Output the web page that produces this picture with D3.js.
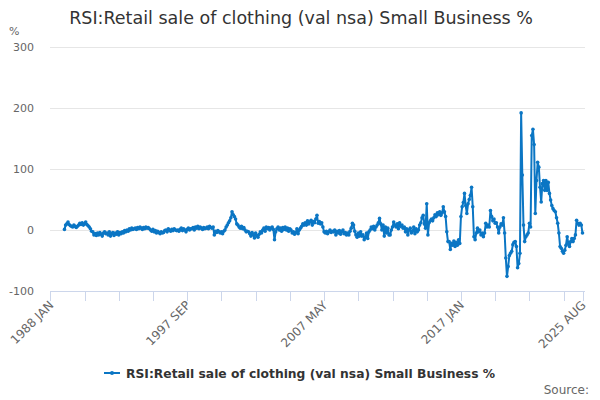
<!DOCTYPE html>
<html>
<head>
<meta charset="utf-8">
<script src="https://cdn.jsdelivr.net/npm/d3@7"></script>
<style>
  body { margin: 0; background: #fff; }
  svg { font-family: "DejaVu Sans", sans-serif; }
</style>
</head>
<body>
<div id="chart"></div>
<script>
const width = 600, height = 400;

const title = "RSI:Retail sale of clothing (val nsa) Small Business %";
const startYear = 1988;
const monthNames = ["JAN", "FEB", "MAR", "APR", "MAY", "JUN", "JUL", "AUG", "SEP", "OCT", "NOV", "DEC"];
const yTicks = [-100, 0, 100, 200, 300];

// monthly values, one row per year, 1988 has no data
const values = [
  null, null, null, null, null, null, null, null, null, null, null, null,
  1, 8, 10, 13, 9, 7, 6, 5, 8, 6, 4, 6,
  8, 11, 9, 12, 8, 10, 13, 9, 7, 5, 2, -2,
  -3, -8, -6, -9, -5, -8, -4, -7, -10, -5, -3, -6,
  -5, -8, -3, -10, -6, -4, -9, -5, -7, -3, -8, -4,
  -6, -3, -5, -1, -3, 0, -2, 2, 0, 3, 1, 2,
  3, 1, 4, 2, 5, 3, 1, 4, 2, 5, 3, 4,
  2, 0, -2, 1, -3, -1, -5, -2, -4, -6, -3, -5,
  -4, -1, 0, -3, 2, 0, -2, 1, -1, 2, 0, -1,
  0, -2, 1, 3, -1, 2, 0, -3, 1, 3, 0, 2,
  2, 4, 0, 5, 3, 6, 2, 5, 3, 1, 4, 2,
  3, 5, 2, 6, 4, 3, 5, -8, -2, -4, -1, -3,
  -5, -3, -6, -2, 0, 5, 8, 12, 15, 20, 30, 25,
  22, 18, 10, 8, 5, 3, 6, 2, 4, 0, -3, -2,
  -3, -6, -10, -4, -8, -13, -5, -9, -12, -7, -3, -5,
  0, 3, -2, 5, 2, 4, 0, 3, 5, 1, -16, -3,
  2, 5, 0, 3, -2, 4, 1, 5, 0, 3, -2, 2,
  0, -5, -3, -7, -4, 2, -6, 0, 3, 6, 10, 8,
  12, 8, 15, 10, 13, 16, 8, 14, 12, 18, 24, 11,
  14, 10, 12, 5, -3, -5, -2, -6, -3, 0, -4, -2,
  -3, 0, -8, -2, -5, -1, -7, -3, 0, -6, -4, -8,
  -5, -8, -2, 3, 11, 8, -2, -8, -12, -5, -10, -3,
  -10, -8, -16, -12, -5, -14, -3, 0, 5, 2, 6, 0,
  5, 8, 12, 19, 10, 0, 8, -10, 5, -5, 3, -8,
  -8, 0, 5, 13, 8, 5, 10, 2, 12, 6, 8, 3,
  5, -3, 2, -8, 0, 3, -5, -2, 5, -6, 2, -3,
  0, 8, 12, 20, 24, 10, 3, 43, -8, 12, 15, 18,
  15, 20, 25, 22, 28, 25, 30, 24, 28, 38, 30, 22,
  -3, -19, -19, -32, -22, -25, -18, -27, -20, -25, -16, -22,
  22, 38, 45, 60, 40, 27, 43, 50, 57, 70, 38, -11,
  -16, -5, 3, -3, 0, -8, -5, -11, -5, 11, 5, 8,
  5, 32, 22, 15, 18, 11, 12, 5, -5, 5, 10, 8,
  20, -5, -46, -76, -60, -42, -38, -35, -24, -20, -19, -27,
  -62, -55, -38, 192, 90, 8, -19, -11, -8, -5, 11, 5,
  155, 165, 140, 27, 81, 111, 103, 70, 46, 76, 81, 65,
  81, 65, 78, 60, 49, 40, 35, 32, 30, 20, 11, -5,
  -27, -30, -35, -38, -33, -25, -11, -22, -27, -19, -14, -19,
  -14, -8, 16, 11, 8, 11, 8, -5
];

const categories = values.map((v, i) =>
  `${startYear + Math.floor(i / 12)} ${monthNames[i % 12]}`);

const tickStep = 29, labelStep = 116;
const tickIdx = d3.range(0, categories.length, tickStep).concat([categories.length - 1]);
const labelIdx = d3.range(0, categories.length, labelStep).concat([categories.length - 1]);

const plotLeft = 50, plotRight = 585, plotTop = 47, plotBottom = 291;
const color = "#0b76c4";

const x = d3.scalePoint()
    .domain(categories)
    .range([50.3, 582.5]);

const y = d3.scaleLinear()
    .domain([-100, 300])
    .range([plotBottom, plotTop]);

const svg = d3.select("#chart").append("svg")
    .attr("width", width)
    .attr("height", height);

svg.append("text")
    .attr("x", 301)
    .attr("y", 24)
    .attr("text-anchor", "middle")
    .attr("font-size", 17.5)
    .attr("fill", "#333")
    .text(title);

// grid + y labels
svg.append("g")
    .selectAll("line")
    .data(yTicks.filter(d => d !== -100))
    .enter().append("line")
    .attr("x1", plotLeft)
    .attr("x2", plotRight)
    .attr("y1", d => y(d) + 0.5)
    .attr("y2", d => y(d) + 0.5)
    .attr("stroke", "#e6e6e6");

svg.append("g")
    .attr("font-size", 11)
    .attr("fill", "#666")
    .selectAll("text")
    .data(yTicks)
    .enter().append("text")
    .attr("x", 34)
    .attr("y", d => y(d) + 4)
    .attr("text-anchor", "end")
    .text(d => d);

svg.append("text")
    .attr("x", 9)
    .attr("y", 35)
    .attr("font-size", 11)
    .attr("fill", "#666")
    .text("%");

// x axis
const xAxis = svg.append("g");
xAxis.append("line")
    .attr("x1", plotLeft)
    .attr("x2", plotRight)
    .attr("y1", plotBottom + 0.5)
    .attr("y2", plotBottom + 0.5)
    .attr("stroke", "#ccd6eb");

xAxis.selectAll("line.tick")
    .data(tickIdx)
    .enter().append("line")
    .attr("class", "tick")
    .attr("x1", d => Math.round(x(categories[d])) + 0.5)
    .attr("x2", d => Math.round(x(categories[d])) + 0.5)
    .attr("y1", plotBottom)
    .attr("y2", plotBottom + 10)
    .attr("stroke", "#ccd6eb");

xAxis.selectAll("text")
    .data(labelIdx)
    .enter().append("text")
    .attr("font-size", 12)
    .attr("fill", "#666")
    .attr("text-anchor", "end")
    .attr("transform", d => `translate(${x(categories[d]) + 4},${plotBottom + 15}) rotate(-45)`)
    .text(d => categories[d]);

// series
const pts = values.map((v, i) => ({ c: categories[i], v })).filter(d => d.v !== null);

const line = d3.line()
    .x(d => x(d.c))
    .y(d => y(d.v));

svg.append("path")
    .datum(pts)
    .attr("fill", "none")
    .attr("stroke", color)
    .attr("stroke-width", 2)
    .attr("stroke-linejoin", "round")
    .attr("d", line);

svg.append("g")
    .attr("fill", color)
    .selectAll("circle")
    .data(pts)
    .enter().append("circle")
    .attr("cx", d => x(d.c))
    .attr("cy", d => y(d.v))
    .attr("r", 1.8);

// legend
const legend = svg.append("g").attr("transform", "translate(104,373)");
legend.append("line")
    .attr("x1", 0).attr("x2", 16)
    .attr("stroke", color)
    .attr("stroke-width", 2);
legend.append("circle")
    .attr("cx", 8)
    .attr("r", 2)
    .attr("fill", color);
legend.append("text")
    .attr("x", 22)
    .attr("y", 5)
    .attr("font-size", 12.3)
    .attr("font-weight", "bold")
    .attr("fill", "#333")
    .text(title);

svg.append("text")
    .attr("x", 589)
    .attr("y", 394)
    .attr("text-anchor", "end")
    .attr("font-size", 12)
    .attr("fill", "#666")
    .text("Source:");
</script>
</body>
</html>
